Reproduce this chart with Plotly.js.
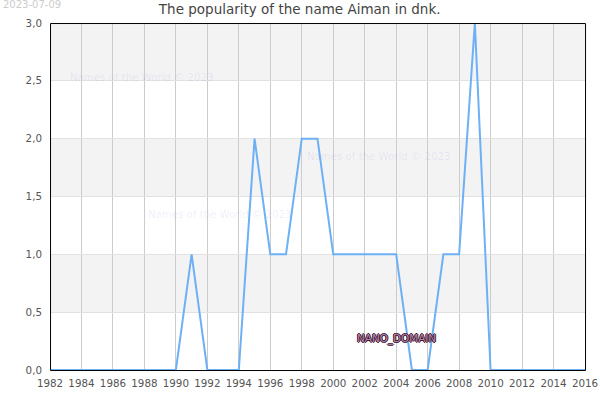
<!DOCTYPE html>
<html><head><meta charset="utf-8">
<script src="https://cdn.plot.ly/plotly-3.0.1.min.js"></script>
<style>html,body{margin:0;padding:0;background:#fff}#c{width:600px;height:400px}</style></head>
<body><div id="c"></div>
<script>
const years = [1982,1983,1984,1985,1986,1987,1988,1989,1990,1991,1992,1993,1994,1995,1996,1997,1998,1999,2000,2001,2002,2003,2004,2005,2006,2007,2008,2009,2010,2011,2012,2013,2014,2015,2016];
const popularity = [0,0,0,0,0,0,0,0,0,1,0,0,0,2,1,1,2,2,1,1,1,1,1,0,0,1,1,3,0,0,0,0,0,0,0];
const xTicks = [1982,1984,1986,1988,1990,1992,1994,1996,1998,2000,2002,2004,2006,2008,2010,2012,2014,2016];
const yTicks = [0,0.5,1,1.5,2,2.5,3];
const yLabels = ["0,0","0,5","1,0","1,5","2,0","2,5","3,0"];
const bandStarts = [0.5,1.5,2.5];
const bandWidth = 0.5;
const chartTitle = "The popularity of the name Aiman in dnk.";
const watermark = "Names of the World © 2023";
const dateStamp = "2023-07-09";
const domainLabel = "NANO_DOMAIN";
const font = "DejaVu Sans";

const shapes = bandStarts.map(s => ({type:"rect",xref:"paper",yref:"y",x0:0,x1:1,y0:s,y1:s+bandWidth,fillcolor:"#f3f3f3",line:{width:0},layer:"below"}));
const wm = {text:watermark,showarrow:false,font:{family:font,size:10.2,color:"rgba(70,70,220,0.1)"},xanchor:"left",yanchor:"middle",xref:"paper",yref:"paper"};
const annotations = [
  {...wm,x:0.034,y:0.842},
  {...wm,x:0.476,y:0.614},
  {...wm,x:0.18,y:0.449},
  {text:dateStamp,showarrow:false,xref:"paper",yref:"paper",x:-0.0915,y:1.053,xanchor:"left",yanchor:"middle",font:{family:font,size:10,color:"#cccccc"}},
  {text:domainLabel,showarrow:false,xref:"paper",yref:"paper",x:0.5695,y:0.092,xanchor:"left",yanchor:"middle",
   font:{family:font,size:10.4,color:"#b88aa8",shadow:"1px 0 0 #3a1030,-1px 0 0 #3a1030,0 1px 0 #3a1030,0 -1px 0 #3a1030"}}
];
const axisFont = {family:font,size:10.3,color:"#555555"};
Plotly.newPlot("c",[{
  x:years,y:popularity,type:"scatter",mode:"lines",line:{color:"#6eb0f5",width:2,shape:"linear"},cliponaxis:false,hoverinfo:"skip"
}],{
  width:600,height:400,
  margin:{l:50,r:15,t:23,b:30},
  paper_bgcolor:"#fff",plot_bgcolor:"#fff",showlegend:false,
  title:{text:chartTitle,font:{family:font,size:13.5,color:"#444444"},x:0.4995,xanchor:"center",y:0.977,yanchor:"middle"},
  xaxis:{range:[1982,2016],tickvals:xTicks,ticktext:xTicks.map(String),tickfont:axisFont,ticklabelstandoff:6,showgrid:true,gridcolor:"#cccccc",gridwidth:1,zeroline:false,showline:false,ticks:""},
  yaxis:{range:[0,3],tickvals:yTicks,ticktext:yLabels,tickfont:axisFont,ticklabelstandoff:7,showgrid:true,gridcolor:"#e2e2e2",gridwidth:1,zeroline:false,showline:false,ticks:""},
  shapes:[...shapes,{type:"rect",xref:"paper",yref:"paper",x0:0.001,x1:1.001,y0:-0.0015,y1:0.9985,line:{color:"#000",width:1},fillcolor:"rgba(0,0,0,0)",layer:"above"}],
  annotations
},{staticPlot:true,displayModeBar:false});
</script></body></html>
